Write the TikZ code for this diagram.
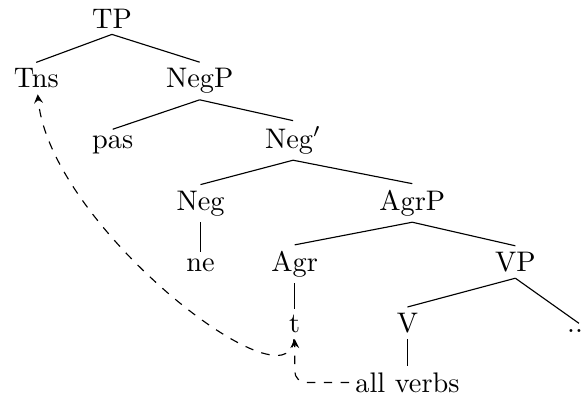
\documentclass[tikz,border=0pt]{standalone}
\usetikzlibrary{arrows}

\begin{document}
\begin{tikzpicture}[
		cat/.style={anchor=base, inner sep=2pt},
		move/.style={dashed, ->, >=stealth}]
		%%%%% START %%%%%
		
		\useasboundingbox (0, 0) rectangle (7.24, 4.97);
		
		\node[cat] (TP) at (1.39, 4.62) {TP};
		\node[cat] (Tns) at (0.45, 3.88) {Tns};
		\node[cat] (NegP) at (2.48, 3.88) {NegP};
		\node[cat] (pas) at (1.40, 3.13) {pas};
		\node[cat] (Negbar) at (3.64, 3.13) {Neg$'$};
		\node[cat] (Neg) at (2.49, 2.36) {Neg};
		\node[cat] (AgrP) at (5.12, 2.36) {AgrP};
		\node[cat] (ne) at (2.49, 1.60) {ne};
		\node[cat] (Agr) at (3.66, 1.60) {Agr};
		\node[cat] (VP) at (6.40, 1.60) {VP};
		\node[cat] (t) at (3.66, 0.84) {t};
		\node[cat] (V) at (5.06, 0.84) {V};
		\node[cat] (rest) at (7.19, 0.84) {...};
		\node[cat] (verbs) at (5.06, 0.10) {all verbs};
		
		\draw (TP.south) -- (Tns.north);
		\draw (TP.south) -- (NegP.north);
		\draw (NegP.south) -- (pas.north);
		\draw (NegP.south) -- (Negbar.north);
		\draw (Negbar.south) -- (Neg.north);
		\draw (Negbar.south) -- (AgrP.north);
		\draw (Neg.south) -- (ne.north);
		\draw (AgrP.south) -- (Agr.north);
		\draw (AgrP.south) -- (VP.north);
		\draw (Agr.south) -- (t.north);
		\draw (VP.south) -- (V.north);
		\draw (VP.south) -- (rest.north);
		\draw (V.south) -- (verbs.north);
		
		% movement
		\draw[move, rounded corners] (verbs.west) -| (t.south);
		\draw[move] (t) .. controls +(-0.06, -1.09) and +(0.17, -1.83) .. (Tns);
		
		%%%%% END %%%%%
	\end{tikzpicture}
\end{document}
